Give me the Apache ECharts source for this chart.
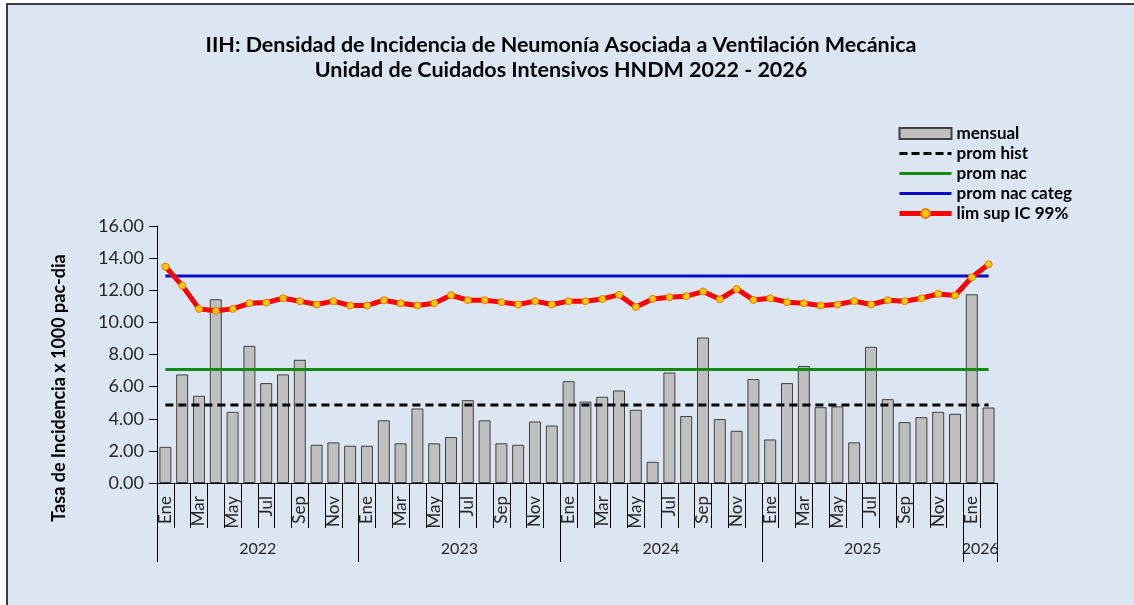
<!DOCTYPE html>
<html>
<head>
<meta charset="utf-8">
<script src="https://cdn.jsdelivr.net/npm/echarts@6/dist/echarts.min.js"></script>
<style>
  html, body { margin: 0; padding: 0; background: #fff; }
  #main { width: 1134px; height: 605px; }
</style>
</head>
<body>
<div id="main"></div>
<script>
// meses (50: ene 2022 - feb 2026)
const mesNombres = ["Ene", "Feb", "Mar", "Abr", "May", "Jun", "Jul", "Ago", "Sep", "Oct", "Nov", "Dic"];
const anios = ["2022", "2023", "2024", "2025", "2026"];
const meses = [];
anios.forEach(a => {
  const n = a === "2026" ? 2 : 12;
  for (let i = 0; i < n; i++) meses.push(mesNombres[i] + " " + a);
});

// tasa mensual
const mensual = [
  2.25, 6.76, 5.43, 11.44, 4.43, 8.54, 6.22, 6.76, 7.67, 2.38, 2.53, 2.32,
  2.32, 3.90, 2.47, 4.64, 2.47, 2.86, 5.16, 3.90, 2.47, 2.38, 3.83, 3.58,
  6.34, 5.07, 5.37, 5.76, 4.56, 1.32, 6.88, 4.17, 9.06, 3.98, 3.25, 6.47,
  2.71, 6.22, 7.28, 4.72, 4.77, 2.53, 8.48, 5.22, 3.79, 4.10, 4.43, 4.31,
  11.75, 4.70
];
// limite superior IC 99%
const limSup = [
  13.47, 12.29, 10.84, 10.72, 10.84, 11.19, 11.23, 11.50, 11.32, 11.11, 11.32, 11.05,
  11.05, 11.38, 11.19, 11.05, 11.19, 11.69, 11.38, 11.38, 11.26, 11.11, 11.32, 11.11,
  11.32, 11.32, 11.46, 11.71, 10.96, 11.46, 11.57, 11.63, 11.92, 11.44, 12.08, 11.40,
  11.50, 11.26, 11.19, 11.05, 11.11, 11.32, 11.11, 11.38, 11.32, 11.50, 11.77, 11.67,
  12.81, 13.62
];
const promHist = 4.85;
const promNac = 7.07;
const promNacCateg = 12.89;

// etiquetas del eje y
const yTicks = [0, 2, 4, 6, 8, 10, 12, 14, 16];

// limites de año (en meses) y centros de etiqueta
const limitesAnio = [0, 12, 24, 36, 48, 50];
const centrosAnio = [6, 18, 30, 42, 49];

const fuente = "Lato";
let myChart = echarts.init(document.getElementById("main"));

myChart.setOption({
  backgroundColor: "#ffffff",
  animation: false,
  textStyle: { fontFamily: fuente },
  graphic: [{
    type: "rect",
    z: -10,
    shape: { x: 7, y: 4, width: 1200, height: 700 },
    style: { fill: "#dce6f2", stroke: "#000", lineWidth: 1.5 }
  }, {
    // titulo del eje y (desplazado hacia abajo como en el original)
    type: "text",
    x: 59,
    y: 388,
    rotation: Math.PI / 2,
    style: {
      text: "Tasa de Incidencia x 1000 pac-dia",
      fontFamily: fuente,
      fontSize: 18,
      fontWeight: "bold",
      fill: "#000",
      align: "center",
      verticalAlign: "middle"
    }
  }],
  title: {
    text: "IIH: Densidad de Incidencia de Neumonía Asociada a Ventilación Mecánica\nUnidad de Cuidados Intensivos HNDM 2022 - 2026",
    left: 556,
    top: 28,
    textAlign: "center",
    textStyle: { fontFamily: fuente, fontSize: 21.5, fontWeight: "bold", color: "#000", lineHeight: 25 }
  },
  legend: {
    orient: "vertical",
    left: 892,
    top: 120,
    itemWidth: 52,
    itemHeight: 11,
    itemGap: 3,
    textStyle: { fontFamily: fuente, fontSize: 17, fontWeight: "bold", color: "#000", lineHeight: 17 },
    data: [
      { name: "mensual", icon: "rect" },
      { name: "prom hist", itemStyle: { opacity: 0 }, lineStyle: { width: 3, type: [8, 4] } },
      { name: "prom nac", itemStyle: { opacity: 0 }, lineStyle: { width: 3 } },
      { name: "prom nac categ", itemStyle: { opacity: 0 }, lineStyle: { width: 3 } },
      { name: "lim sup IC 99%", lineStyle: { width: 5 } }
    ]
  },
  grid: { left: 157, right: 137, top: 226, bottom: 122 },
  xAxis: [{
    type: "category",
    data: meses,
    axisLine: { lineStyle: { color: "#000", width: 1 } },
    axisTick: { show: true, interval: 0, length: 45, lineStyle: { color: "#000" } },
    axisLabel: {
      interval: 1,
      rotate: 90,
      margin: 13,
      fontSize: 17,
      color: "#262626",
      formatter: v => v.split(" ")[0]
    }
  }, {
    type: "value",
    min: 0,
    max: 50,
    position: "bottom",
    axisLine: { show: false },
    splitLine: { show: false },
    axisTick: { show: true, length: 79, customValues: limitesAnio, lineStyle: { color: "#000" } },
    axisLabel: {
      customValues: centrosAnio,
      margin: 58,
      fontSize: 16,
      color: "#262626",
      formatter: v => anios[centrosAnio.indexOf(v)]
    }
  }],
  yAxis: {
    type: "value",
    min: 0,
    max: 16,
    interval: 2,
    axisLine: { show: true, lineStyle: { color: "#000" } },
    axisTick: { show: true, length: 8, lineStyle: { color: "#000" } },
    splitLine: { show: false },
    axisLabel: {
      fontSize: 18,
      color: "#262626",
      margin: 13,
      formatter: v => yTicks.indexOf(v) >= 0 ? v.toFixed(2) : ""
    }
  },
  series: [
    {
      name: "mensual",
      type: "bar",
      data: mensual,
      barWidth: 12,
      itemStyle: { color: "#bfbfbf", borderColor: "#404040", borderWidth: 1 },
      z: 1
    },
    {
      name: "prom hist",
      type: "line",
      data: meses.map(() => promHist),
      symbol: "none",
      lineStyle: { color: "#000", width: 3, type: [8, 5] },
      itemStyle: { color: "#000" },
      z: 3
    },
    {
      name: "prom nac",
      type: "line",
      data: meses.map(() => promNac),
      symbol: "none",
      lineStyle: { color: "#138a13", width: 3 },
      itemStyle: { color: "#138a13" },
      z: 3
    },
    {
      name: "prom nac categ",
      type: "line",
      data: meses.map(() => promNacCateg),
      symbol: "none",
      lineStyle: { color: "#0a0ac8", width: 3 },
      itemStyle: { color: "#0a0ac8" },
      z: 3
    },
    {
      name: "lim sup IC 99%",
      type: "line",
      data: limSup,
      symbol: "circle",
      symbolSize: 7,
      lineStyle: { color: "#ff0000", width: 5 },
      itemStyle: { color: "#ffcc00", borderColor: "#f07800", borderWidth: 1 },
      z: 4
    }
  ]
});
</script>
</body>
</html>
